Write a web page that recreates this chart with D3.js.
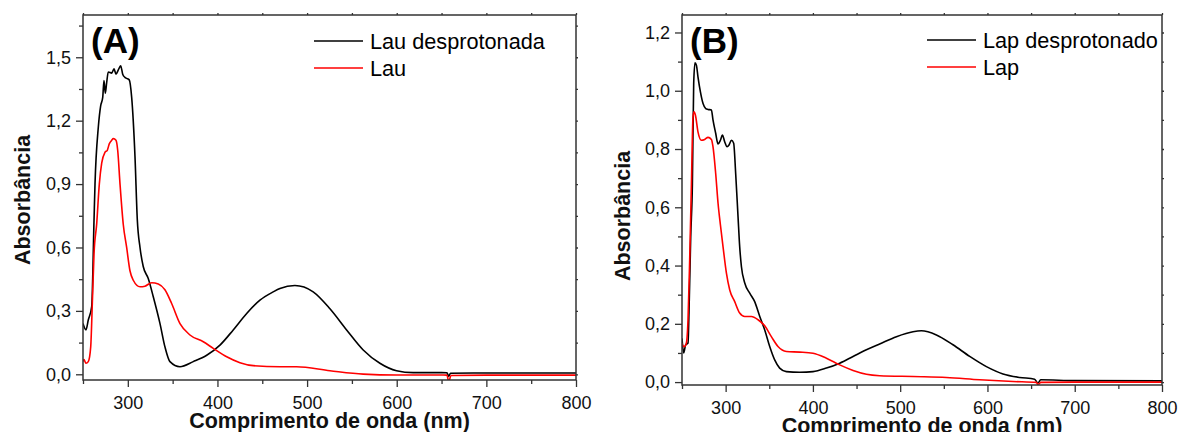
<!DOCTYPE html>
<html>
<head>
<meta charset="utf-8">
<script src="https://cdn.jsdelivr.net/npm/d3@7"></script>
<style>
  body { margin: 0; background: #fff; }
  svg { display: block; font-family: "Liberation Sans", Arial, sans-serif; }
  .frame { fill: none; stroke: #333; stroke-width: 1.5; }
  .axis path { display: none; }
  .axis line { stroke: #333; stroke-width: 1.3; }
  .axis text { font-size: 18px; fill: #111; }
  .title { font-size: 21.5px; font-weight: bold; fill: #111; }
  .panel-label { font-size: 35px; font-weight: bold; fill: #000; }
  .legend text { font-size: 21.7px; fill: #000; }
  .curve { fill: none; stroke-width: 1.6; stroke-linejoin: round; }
</style>
</head>
<body>
<div id="chart"></div>
<script>
// ---- data ----
// (A) Lau
var lauDespNm  = [250, 253.3, 255.9, 259.7, 262.3, 263.4, 267.1, 269.7, 272, 273.4, 274.9, 276.4, 278.2, 282, 284.6, 286.8, 289.4, 292, 294.3, 296.8, 298.7, 301.6, 304.3, 308, 310.6, 313.6, 317.2, 322.8, 328.4, 335.9, 341.4, 347, 358.2, 373, 388, 402.8, 417.6, 432.6, 447.4, 462.2, 469.7, 486.4, 506.8, 525.5, 544.1, 562.6, 581.2, 599.8, 618.4, 650, 656, 658, 660, 700, 750, 800];
var lauDespAbs = [0.24, 0.21, 0.257, 0.32, 0.73, 0.90, 1.17, 1.27, 1.31, 1.39, 1.33, 1.38, 1.43, 1.425, 1.445, 1.42, 1.44, 1.46, 1.42, 1.405, 1.40, 1.393, 1.31, 1.03, 0.73, 0.60, 0.51, 0.453, 0.367, 0.24, 0.13, 0.06, 0.036, 0.06, 0.09, 0.138, 0.21, 0.288, 0.351, 0.39, 0.406, 0.42, 0.39, 0.31, 0.21, 0.115, 0.052, 0.017, 0.008, 0.008, 0.007, -0.01, 0.005, 0.006, 0.006, 0.006];

var lauNm  = [250, 251.1, 253.3, 255.9, 258.6, 260.4, 262.3, 265.3, 268.2, 270.9, 274.5, 277.1, 279.3, 282, 283.8, 286.8, 288.7, 291.3, 294.9, 298.7, 302.4, 306.1, 313.6, 319.1, 326.6, 334, 341.4, 348.9, 358.2, 369.3, 384.2, 395.3, 410.3, 425.1, 440, 469.7, 488.3, 525.5, 562.6, 599.8, 651.8, 656, 658, 660.5, 700, 800];
var lauAbs = [0.06, 0.07, 0.052, 0.06, 0.13, 0.335, 0.57, 0.713, 0.90, 1.0, 1.05, 1.06, 1.09, 1.107, 1.115, 1.107, 1.06, 0.90, 0.71, 0.60, 0.49, 0.445, 0.414, 0.417, 0.433, 0.427, 0.40, 0.335, 0.24, 0.186, 0.154, 0.123, 0.083, 0.055, 0.041, 0.036, 0.036, 0.017, 0.001, -0.003, -0.003, -0.004, -0.035, -0.006, -0.004, -0.004];

// (B) Lap
var lapDespNm  = [250, 251.9, 254.2, 256.9, 258, 260, 261.9, 263.4, 264.9, 266.5, 268.3, 271.1, 274.1, 277.2, 279.8, 283.7, 285.5, 288.6, 291.3, 294, 296.3, 298.9, 301.6, 303.9, 306.6, 309.2, 311.5, 314.2, 316.1, 318.1, 321.9, 327.6, 333.3, 339.1, 344.8, 350.5, 356.2, 361.9, 369.6, 384.9, 400.1, 415.5, 430.7, 446, 461.3, 476.5, 495.7, 514.7, 524.3, 541.5, 560.5, 579.7, 598.8, 617.8, 636.9, 654, 657.9, 661, 700, 800];
var lapDespAbs = [0.15, 0.10, 0.128, 0.134, 0.237, 0.50, 0.68, 1.025, 1.096, 1.088, 1.048, 0.996, 0.956, 0.939, 0.936, 0.934, 0.90, 0.854, 0.817, 0.83, 0.848, 0.825, 0.808, 0.814, 0.83, 0.82, 0.716, 0.568, 0.465, 0.396, 0.34, 0.305, 0.276, 0.225, 0.179, 0.122, 0.076, 0.048, 0.036, 0.034, 0.036, 0.048, 0.065, 0.088, 0.111, 0.131, 0.156, 0.173, 0.176, 0.162, 0.128, 0.088, 0.053, 0.028, 0.016, 0.010, -0.003, 0.008, 0.005, 0.004];

var lapNm  = [250, 251.1, 253.1, 255, 256.9, 258.8, 260.8, 262.6, 263.8, 265.4, 268.3, 272.2, 276, 279.8, 283.7, 285.5, 288.6, 291.3, 294, 297, 300.9, 304.7, 310.4, 316.1, 321.9, 329.5, 337.1, 344.8, 352.4, 360, 369.6, 384.9, 400.1, 415.5, 430.7, 446, 461.3, 476.5, 514.7, 552.9, 591.1, 629.3, 656.1, 658, 661, 700, 800];
var lapAbs = [0.134, 0.124, 0.122, 0.134, 0.214, 0.42, 0.68, 0.91, 0.928, 0.916, 0.859, 0.83, 0.833, 0.84, 0.833, 0.808, 0.716, 0.614, 0.54, 0.465, 0.374, 0.316, 0.276, 0.237, 0.225, 0.225, 0.214, 0.193, 0.156, 0.122, 0.105, 0.103, 0.099, 0.082, 0.059, 0.04, 0.027, 0.022, 0.019, 0.016, 0.008, 0.002, -0.001, -0.009, -0.001, 0.0, 0.0];

var xTicks = [300, 400, 500, 600, 700, 800];
var xMinor = [250, 350, 450, 550, 650, 750];
var yTicksA = [0, 0.3, 0.6, 0.9, 1.2, 1.5];
var yMinorA = [0.15, 0.45, 0.75, 1.05, 1.35, 1.65];
var yTicksB = [0, 0.2, 0.4, 0.6, 0.8, 1.0, 1.2];
var yMinorB = [0.1, 0.3, 0.5, 0.7, 0.9, 1.1];

var xTitle = "Comprimento de onda (nm)";
var yTitle = "Absorbância";

var svg = d3.select('#chart').append('svg')
    .attr('width', 1179)
    .attr('height', 432);

function comma(d) { return d3.format('.1f')(d).replace('.', ','); }

function zip(xs, ys) { return xs.map(function(x, i) { return [x, ys[i]]; }); }

function drawPanel(p) {
    var x = d3.scaleLinear().domain([250, 800]).range([p.left, p.right]);
    var y = d3.scaleLinear().domain(p.yDomain).range([p.bottom, p.top]);
    var g = svg.append('g');

    // clip
    var clipId = 'clip-' + p.label.replace(/\W/g, '');
    g.append('clipPath').attr('id', clipId)
      .append('rect')
      .attr('x', p.left).attr('y', p.top)
      .attr('width', p.right - p.left).attr('height', p.bottom - p.top);

    // axes: major + minor ticks, outward on bottom/left, short mirrors on top/right
    g.append('g').attr('class', 'axis')
      .attr('transform', 'translate(0,' + p.bottom + ')')
      .call(d3.axisBottom(x).tickValues(p.xTicks).tickSize(7).tickPadding(9).tickFormat(d3.format('d')));
    g.append('g').attr('class', 'axis')
      .attr('transform', 'translate(0,' + p.bottom + ')')
      .call(d3.axisBottom(x).tickValues(p.xMinor).tickSize(4).tickFormat(''));
    g.append('g').attr('class', 'axis')
      .attr('transform', 'translate(' + p.left + ',0)')
      .call(d3.axisLeft(y).tickValues(p.yTicks).tickSize(7).tickPadding(5).tickFormat(comma));
    g.append('g').attr('class', 'axis')
      .attr('transform', 'translate(' + p.left + ',0)')
      .call(d3.axisLeft(y).tickValues(p.yMinor).tickSize(4).tickFormat(''));
    g.append('g').attr('class', 'axis')
      .attr('transform', 'translate(0,' + p.top + ')')
      .call(d3.axisTop(x).tickValues(p.xTicks.concat(p.xMinor)).tickSize(2).tickFormat(''));
    g.append('g').attr('class', 'axis')
      .attr('transform', 'translate(' + p.right + ',0)')
      .call(d3.axisRight(y).tickValues(p.yTicks.concat(p.yMinor)).tickSize(2).tickFormat(''));

    // curves
    var line = d3.line()
        .x(function(d) { return x(d[0]); })
        .y(function(d) { return y(d[1]); })
        .curve(d3.curveMonotoneX);

    var curves = g.append('g').attr('clip-path', 'url(#' + clipId + ')');
    p.series.forEach(function(s) {
        curves.append('path')
          .attr('class', 'curve')
          .attr('d', line(zip(s.nm, s.abs)))
          .attr('stroke', s.color);
    });

    g.append('rect').attr('class', 'frame')
      .attr('x', p.left).attr('y', p.top)
      .attr('width', p.right - p.left).attr('height', p.bottom - p.top);

    // panel label
    g.append('text').attr('class', 'panel-label')
      .attr('x', p.left + 8).attr('y', 53)
      .text(p.label);

    // legend
    var legend = g.append('g').attr('class', 'legend');
    p.series.forEach(function(s, i) {
        var ly = p.legendY + i * 27;
        legend.append('line')
          .attr('x1', p.legendX).attr('x2', p.legendX + 49)
          .attr('y1', ly).attr('y2', ly)
          .attr('stroke', s.color).attr('stroke-width', 1.6);
        legend.append('text')
          .attr('x', p.legendX + 56).attr('y', ly + 8)
          .text(s.name);
    });

    // axis titles
    g.append('text').attr('class', 'title')
      .attr('text-anchor', 'middle')
      .attr('x', (p.left + p.right) / 2).attr('y', p.bottom + 48)
      .text(xTitle);
    g.append('text').attr('class', 'title')
      .attr('text-anchor', 'middle')
      .attr('transform', 'translate(' + p.yTitleX + ',' + p.yTitleY + ') rotate(-90)')
      .text(yTitle);
}

drawPanel({
    label: '(A)', left: 83, right: 576, top: 15, bottom: 380,
    yDomain: [-0.027, 1.7],
    xTicks: xTicks, xMinor: xMinor, yTicks: yTicksA, yMinor: yMinorA,
    legendX: 314, legendY: 41, yTitleX: 30, yTitleY: 200,
    series: [
        { name: 'Lau desprotonada', nm: lauDespNm, abs: lauDespAbs, color: '#000000' },
        { name: 'Lau', nm: lauNm, abs: lauAbs, color: '#ff0000' }
    ]
});

drawPanel({
    label: '(B)', left: 682, right: 1162, top: 15, bottom: 385,
    yDomain: [-0.01, 1.26],
    xTicks: xTicks, xMinor: xMinor, yTicks: yTicksB, yMinor: yMinorB,
    legendX: 927, legendY: 40, yTitleX: 630, yTitleY: 216,
    series: [
        { name: 'Lap desprotonado', nm: lapDespNm, abs: lapDespAbs, color: '#000000' },
        { name: 'Lap', nm: lapNm, abs: lapAbs, color: '#ff0000' }
    ]
});
</script>
</body>
</html>
